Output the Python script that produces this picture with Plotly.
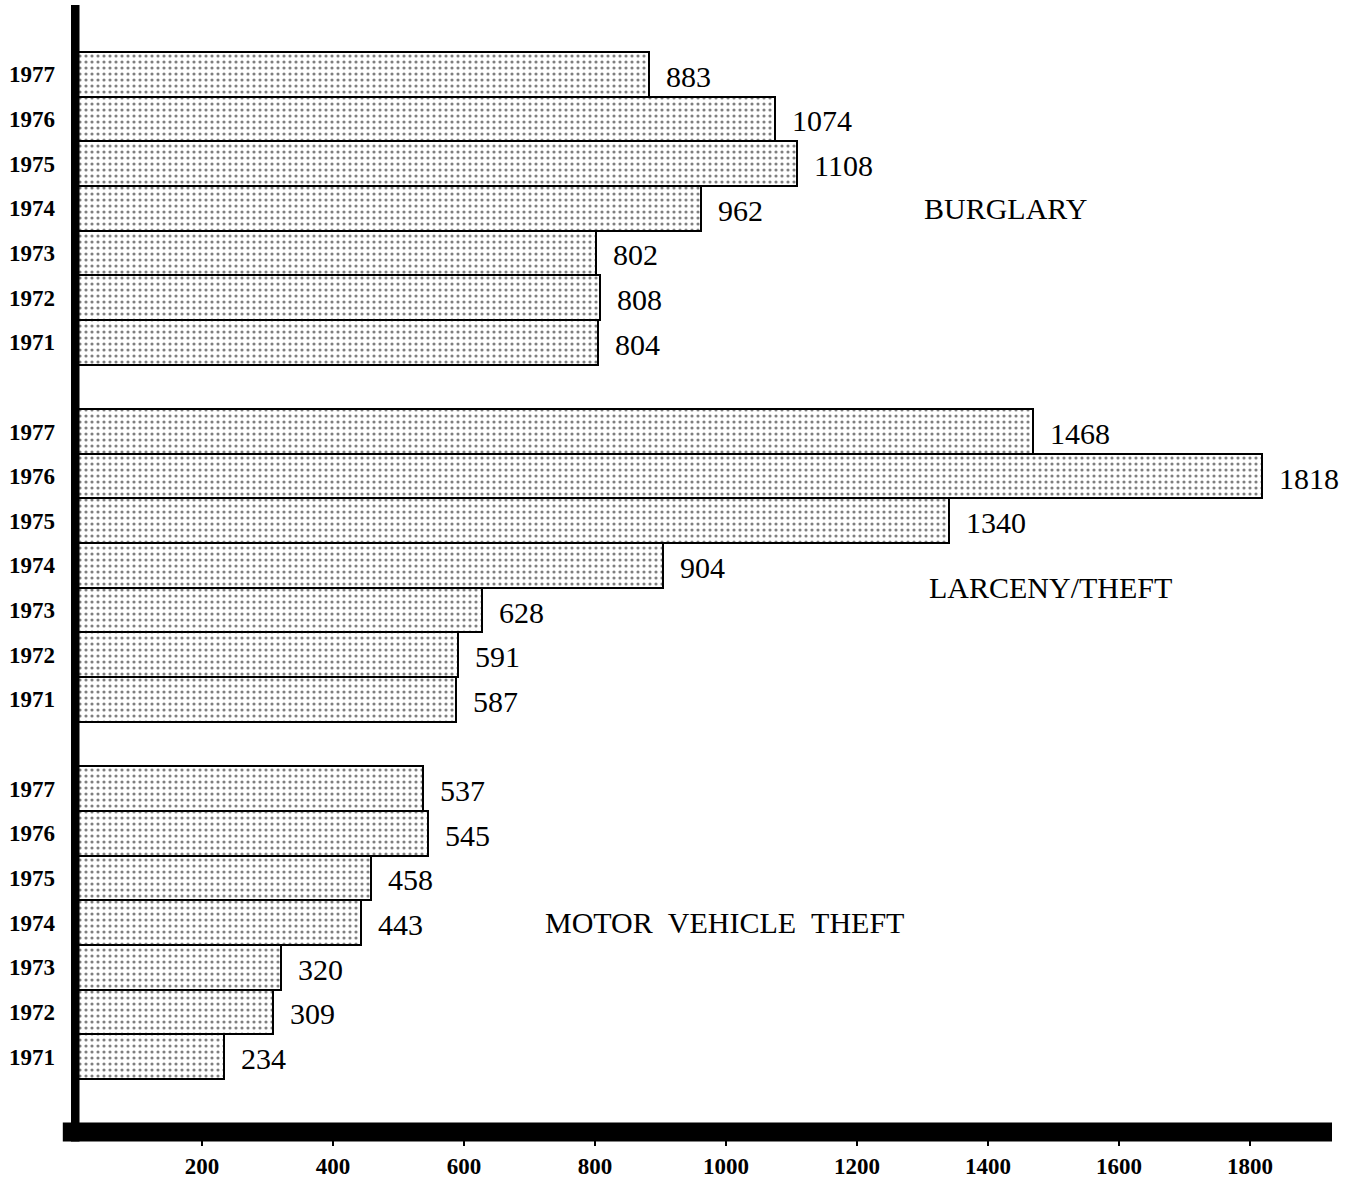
import plotly.graph_objects as go

years = ["1977", "1976", "1975", "1974", "1973", "1972", "1971"]
burglary = [883, 1074, 1108, 962, 802, 808, 804]
larceny = [1468, 1818, 1340, 904, 628, 591, 587]
motor = [537, 545, 458, 443, 320, 309, 234]
categories = ["BURGLARY", "LARCENY/THEFT", "MOTOR\u00a0\u00a0VEHICLE\u00a0\u00a0THEFT"]
x_ticks = [200, 400, 600, 800, 1000, 1200, 1400, 1600, 1800]

groups = [burglary, larceny, motor]
# label positions (x in data units, y in row-slot units)
cat_pos = [(1426, 3.0), (1495, 11.5), (997, 19.0)]

SERIF = "Liberation Serif"

ys, xs, tickv, tickt = [], [], [], []
for g, vals in enumerate(groups):
    for i, v in enumerate(vals):
        slot = g * 8 + i
        ys.append(slot)
        xs.append(v)
        tickv.append(slot)
        tickt.append(years[i])

fig = go.Figure()
fig.add_trace(go.Bar(
    x=xs, y=ys, orientation="h", width=1.0,
    marker=dict(
        color="white",
        line=dict(color="black", width=2),
        pattern=dict(shape=".", fgcolor="black", bgcolor="white", size=6, solidity=0.22),
    ),
    showlegend=False, hoverinfo="skip",
))

annotations = []
for x, y in zip(xs, ys):
    annotations.append(dict(
        x=x, y=y, xref="x", yref="y", text=str(x), showarrow=False,
        xanchor="left", yanchor="middle", xshift=15, yshift=-2,
        font=dict(family=SERIF, size=30, color="black"),
    ))
for name, (cx, cy) in zip(categories, cat_pos):
    annotations.append(dict(
        x=cx, y=cy, xref="x", yref="y", text=name, showarrow=False,
        xanchor="center", yanchor="middle",
        font=dict(family=SERIF, size=30, color="black"),
    ))

shapes = [
    # thick left axis
    dict(type="line", xref="x", yref="paper", x0=0, x1=0, y0=-0.0085, y1=1,
         line=dict(color="black", width=17), layer="above"),
    # thick bottom axis
    dict(type="line", xref="paper", yref="paper", x0=-0.0065, x1=1, y0=0, y1=0,
         line=dict(color="black", width=19), layer="above"),
]

fig.update_layout(
    width=1354, height=1181,
    margin=dict(l=71, r=22, t=5, b=49, autoexpand=False),
    paper_bgcolor="white", plot_bgcolor="white",
    bargap=0,
    annotations=annotations,
    shapes=shapes,
    xaxis=dict(
        range=[0, 1925], tickvals=x_ticks, ticktext=[str(t) for t in x_ticks],
        showgrid=False, zeroline=False, showline=False, automargin=False,
        ticks="outside", ticklen=13, tickwidth=2, tickcolor="black",
        ticklabelstandoff=0,
        tickfont=dict(family=SERIF, size=23, color="black", weight="bold"),
    ),
    yaxis=dict(
        range=[23.69, -1.552], tickvals=tickv, ticktext=tickt,
        showgrid=False, zeroline=False, showline=False, ticks="", automargin=False,
        ticklabelstandoff=15,
        tickfont=dict(family=SERIF, size=23, color="black", weight="bold"),
    ),
)

fig.write_html(
    "out.html",
    config={"displayModeBar": False},
    post_script="document.body.style.margin='0';document.body.style.overflow='hidden';",
)
